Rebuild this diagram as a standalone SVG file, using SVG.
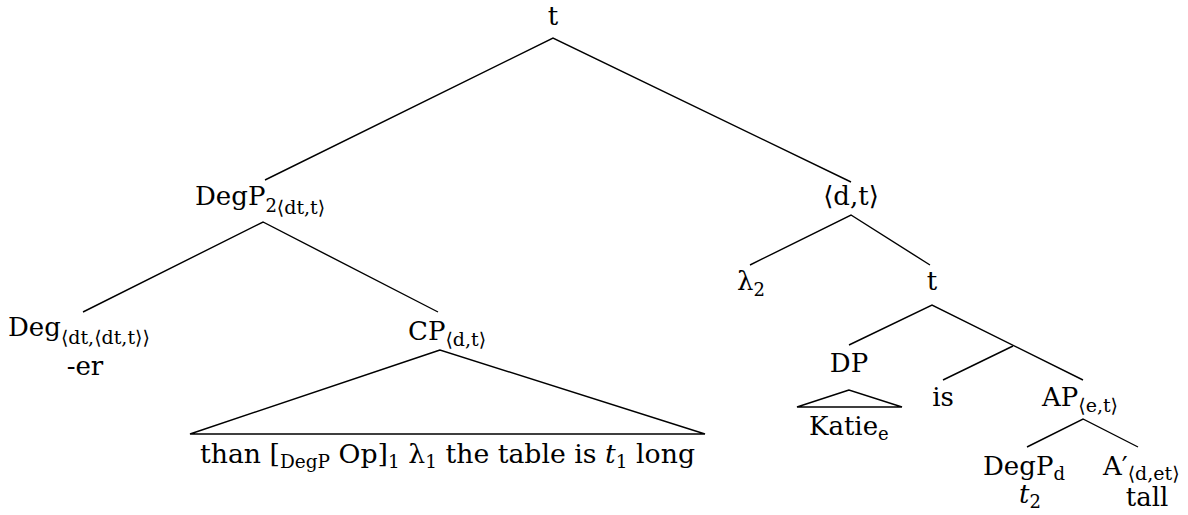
<svg xmlns="http://www.w3.org/2000/svg" width="1188" height="515" viewBox="0 0 1188 515">
<style>
text{font-family:"DejaVu Serif",serif;font-size:26px;fill:#000}
.s{font-size:18px}
.ss{font-size:19px}
.it{font-style:italic}
.ln{stroke:#000;stroke-width:1.4;fill:none}
</style>
<rect width="1188" height="515" fill="#fff"/>
<g id="connectors" class="ln">
<polyline class="ln" points="265,180 553,38 851,182"/>
<polyline class="ln" points="83,312 263,222 438,312"/>
<polygon class="ln" points="440,350 190,434 705,434"/>
<polyline class="ln" points="750,265 851,215 930,265"/>
<polyline class="ln" points="849,345 932,305 1083,380"/>
<line class="ln" x1="1013" y1="346" x2="943" y2="380"/>
<polygon class="ln" points="849,390 797,407 902,407"/>
<polyline class="ln" points="1027,447 1083,419 1138,447"/>
</g>
<g id="n-t-root"><text x="553" y="25" text-anchor="middle">t</text></g>
<g id="n-degp"><text x="195" y="205">DegP<tspan class="s" dy="7">2</tspan><tspan class="ss" dy="2">⟨dt,t⟩</tspan></text></g>
<g id="n-dt"><text x="851" y="205" text-anchor="middle">⟨d,t⟩</text></g>
<g id="n-deg"><text x="8" y="336">Deg<tspan class="ss" dy="8">⟨dt,⟨dt,t⟩⟩</tspan></text><text x="85" y="375" text-anchor="middle">-er</text></g>
<g id="n-cp"><text x="408" y="340">CP<tspan class="ss" dy="6">⟨d,t⟩</tspan></text></g>
<g id="n-than"><text x="200" y="463" textLength="495" lengthAdjust="spacingAndGlyphs">than [<tspan class="s" dy="5">DegP</tspan><tspan dy="-5"> Op]</tspan><tspan class="s" dy="5">1</tspan><tspan dy="-5"> λ</tspan><tspan class="s" dy="5">1</tspan><tspan dy="-5"> the table is </tspan><tspan class="it">t</tspan><tspan class="s" dy="5">1</tspan><tspan dy="-5"> long</tspan></text></g>
<g id="n-lambda"><text x="737" y="290">λ<tspan class="s" dy="6">2</tspan></text></g>
<g id="n-t2"><text x="932" y="290" text-anchor="middle">t</text></g>
<g id="n-dp"><text x="849" y="372" text-anchor="middle">DP</text></g>
<g id="n-katie"><text x="809" y="435">Katie<tspan class="s" dy="5">e</tspan></text></g>
<g id="n-is"><text x="943" y="406" text-anchor="middle">is</text></g>
<g id="n-ap"><text x="1042" y="406">AP<tspan class="ss" dy="6">⟨e,t⟩</tspan></text></g>
<g id="n-degpd"><text x="983" y="475">DegP<tspan class="s" dy="5">d</tspan></text><text x="1030" y="503" text-anchor="middle" class="it">t<tspan class="s" dy="5" style="font-style:normal">2</tspan></text></g>
<g id="n-a"><text x="1103" y="475">A′<tspan class="ss" dy="5">⟨d,et⟩</tspan></text><text x="1147" y="506" text-anchor="middle">tall</text></g>
</svg>
